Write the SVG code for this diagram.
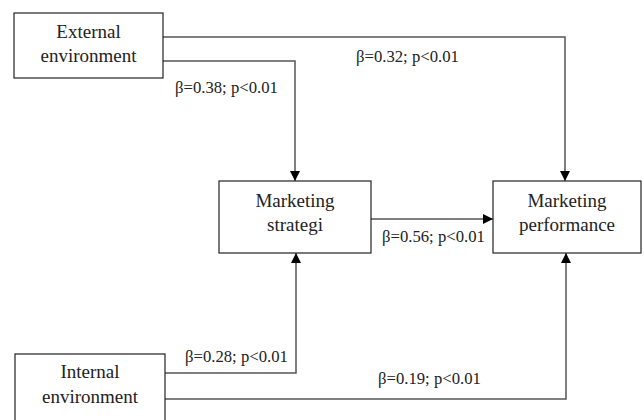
<svg xmlns="http://www.w3.org/2000/svg" width="644" height="420" viewBox="0 0 644 420">
<defs>
<style>
.box{fill:#fff;stroke:#222;stroke-width:1.2}
.node{font-family:"Liberation Serif","Times New Roman",serif;font-size:19px;fill:#222;text-anchor:middle}
.lbl{font-family:"Liberation Serif","Times New Roman",serif;font-size:16.7px;fill:#222}
.conn{fill:none;stroke:#555;stroke-width:1.5}
</style>
<marker id="arr" viewBox="0 0 10 10" refX="10" refY="5" markerWidth="10" markerHeight="10" markerUnits="userSpaceOnUse" orient="auto">
<path d="M0,0 L10,5 L0,10 Z" fill="#000"/>
</marker>
</defs>
<rect width="644" height="420" fill="#fff"/>
<g id="connectors">
<polyline class="conn" points="163,37 565,37 565,181" marker-end="url(#arr)"/>
<polyline class="conn" points="163,61 295,61 295,181" marker-end="url(#arr)"/>
<line class="conn" x1="371" y1="219" x2="493" y2="219" stroke="#000" marker-end="url(#arr)"/>
<polyline class="conn" points="165,373 296,373 296,253" marker-end="url(#arr)"/>
<polyline class="conn" points="165,399 566,399 566,253" marker-end="url(#arr)"/>
</g>
<g id="external">
<rect class="box" x="14" y="13" width="149" height="65"/>
<text class="node" x="88.5" y="38">External</text>
<text class="node" x="88.5" y="62">environment</text>
</g>
<g id="strategi">
<rect class="box" x="219" y="181" width="152" height="72"/>
<text class="node" x="295" y="207">Marketing</text>
<text class="node" x="295" y="231">strategi</text>
</g>
<g id="performance">
<rect class="box" x="493" y="181" width="148" height="72"/>
<text class="node" x="567" y="207">Marketing</text>
<text class="node" x="567" y="231">performance</text>
</g>
<g id="internal">
<rect class="box" x="15" y="354" width="150" height="80"/>
<text class="node" x="90" y="378">Internal</text>
<text class="node" x="90" y="403">environment</text>
</g>
<g id="labels">
<text class="lbl" x="175" y="93">β=0.38; p&lt;0.01</text>
<text class="lbl" x="356" y="62">β=0.32; p&lt;0.01</text>
<text class="lbl" x="382" y="242">β=0.56; p&lt;0.01</text>
<text class="lbl" x="185" y="362">β=0.28; p&lt;0.01</text>
<text class="lbl" x="378" y="384">β=0.19; p&lt;0.01</text>
</g>
</svg>
